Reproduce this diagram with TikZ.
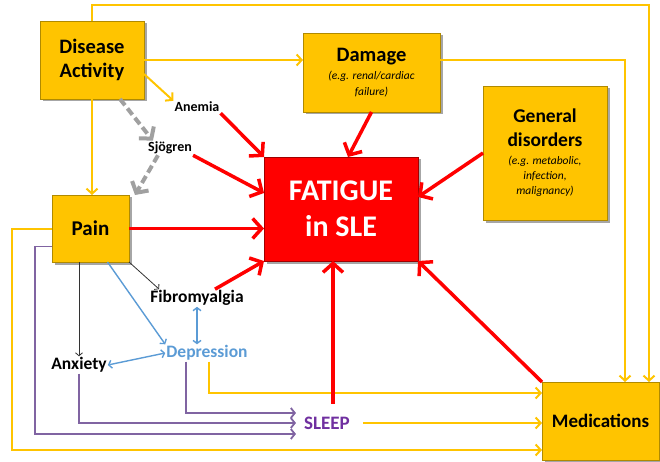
\documentclass[tikz,border=0pt]{standalone}
\usepackage{fontspec}
\setmainfont{Carlito}
\usetikzlibrary{arrows.meta, positioning, shadows}

\definecolor{gold}{HTML}{FFC400}
\definecolor{golddark}{HTML}{B08A00}
\definecolor{fatred}{HTML}{FF0000}
\definecolor{reddark}{HTML}{A00000}
\definecolor{violetline}{HTML}{8064A2}
\definecolor{sleepviolet}{HTML}{7030A0}
\definecolor{depblue}{HTML}{5B9BD5}
\definecolor{dashgray}{HTML}{A0A0A0}

\newcommand\subfont{\fontsize{11.5}{13}\selectfont\mdseries\itshape}

\begin{document}
\begin{tikzpicture}[
  x=1pt, y=-1pt,
  font=\bfseries,
  gbox/.style={
    draw=golddark,
    fill=gold,
    line width=0.8pt,
    align=center,
    inner sep=2pt,
    outer sep=0pt,
    drop shadow={shadow xshift=2.5pt, shadow yshift=-2.5pt, fill=black, opacity=0.35}
  },
  rbox/.style={
    gbox,
    draw=reddark,
    fill=fatred,
    text=white
  },
  lbl/.style={
    inner sep=1pt,
    align=center
  },
  yarrow/.style={
    draw=gold,
    line width=2pt,
    -{Straight Barb[length=5pt,width=11pt]}
  },
  rarrow/.style={
    draw=fatred,
    line width=3.5pt,
    -{Straight Barb[length=9pt,width=20pt]}
  },
  garrow/.style={
    draw=dashgray,
    line width=4pt,
    dash pattern=on 8pt off 4pt,
    -{Straight Barb[length=8pt,width=19pt]}
  },
  karrow/.style={
    draw=black!80,
    line width=0.8pt,
    -{Straight Barb[length=3pt,width=7pt]}
  },
  barrow/.style={
    draw=depblue,
    line width=1.4pt,
    {Straight Barb[length=3pt,width=8pt]}-{Straight Barb[length=3pt,width=8pt]}
  },
  varrow/.style={
    draw=violetline,
    line width=1.8pt,
    -{Straight Barb[length=4pt,width=10pt]}
  }
]
\useasboundingbox (0,0) rectangle (660,462);

% Boxes
\node[gbox, minimum width=104pt, minimum height=78pt,
  font=\fontsize{20.5}{24}\selectfont\bfseries] (act) at (92,60)
{Disease\\Activity};

\node[gbox, minimum width=137pt, minimum height=79pt,
  font=\fontsize{20.5}{22}\selectfont\bfseries] (dmg) at (371.5,72.5)
{Damage\\[-4pt]{\subfont (e.g. renal/cardiac}\\[-6pt]{\subfont failure)}};

\node[gbox, minimum width=124pt, minimum height=134pt,
  font=\fontsize{19.5}{24}\selectfont\bfseries] (gen) at (545,153)
{General\\disorders\\[-6pt]{\subfont (e.g. metabolic,}\\[-9pt]{\subfont infection,}\\[-9pt]{\subfont malignancy)}};

\node[rbox, minimum width=154pt, minimum height=104pt,
  font=\fontsize{30}{36}\selectfont\bfseries] (fat) at (341,209)
{FATIGUE\\in SLE};

\node[gbox, minimum width=77pt, minimum height=67pt,
  font=\fontsize{21}{24}\selectfont\bfseries] (pain) at (90.5,228.5)
{Pain};

\node[gbox, minimum width=117pt, minimum height=78pt,
  font=\fontsize{19}{22}\selectfont\bfseries] (med) at (600.5,421)
{Medications};

% Labels
\node[lbl, font=\fontsize{14}{16}\selectfont\bfseries] (anemia) at (197,107) {Anemia};
\node[lbl, font=\fontsize{14}{16}\selectfont\bfseries] (sjo) at (170,148) {Sjögren};
\node[lbl, font=\fontsize{17.5}{20}\selectfont\bfseries] (fib) at (197,298) {Fibromyalgia};
\node[lbl, font=\fontsize{17.5}{20}\selectfont\bfseries, text=depblue] (dep) at (207,353) {Depression};
\node[lbl, font=\fontsize{17.5}{20}\selectfont\bfseries] (anx) at (79,365) {Anxiety};
\node[lbl, font=\fontsize{19}{22}\selectfont\bfseries, text=sleepviolet] (sleep) at (327,423) {SLEEP};

% Yellow arrows
\draw[yarrow] (act.north) -- ++(0,-16) -| ([xshift=48.5pt]med.north);
\draw[yarrow] ([yshift=12pt]dmg.east) -| ([xshift=24.5pt]med.north);
\draw[yarrow] (act.east) -- (dmg.west |- act.east);
\draw[yarrow] ([yshift=-14pt]act.east) -- (anemia.north west);
\draw[yarrow] (act.south) -- (act.south |- pain.north);
\draw[yarrow] (pain.west) -- ++(-40,0) |- ([yshift=-29pt]med.west);
\draw[yarrow] ([xshift=2pt]dep.south) |- ([yshift=28pt]med.west);
\draw[yarrow] ([xshift=12pt]sleep.east) -- (sleep.east -| med.west);

% Red arrows
\draw[rarrow] (anemia.south east) -- (fat.north west);
\draw[rarrow] (sjo.south east) -- ([yshift=16pt]fat.west);
\draw[rarrow] (pain.east) -- (pain.east -| fat.west);
\draw[rarrow] ([xshift=18pt]fib.north) -- (fat.south west);
\draw[rarrow] (dmg.south) -- ([xshift=7pt]fat.north);
\draw[rarrow] (gen.west) -- ([yshift=12pt]fat.east);
\draw[rarrow] ([xshift=6pt,yshift=12pt]sleep.north) -- ([xshift=6pt]sleep.north |- fat.south);
\draw[rarrow] (med.north west) -- (fat.south east);

% Gray dashed arrows
\draw[garrow] ([xshift=28pt]act.south) -- ([xshift=6pt]sjo.north west);
\draw[garrow] ([xshift=-12pt]sjo.south) -- ([xshift=6pt]pain.north east);

% Black arrows
\draw[karrow] (pain.south east) -- ([xshift=10pt]fib.north west);
\draw[karrow] (anx.north |- pain.south) -- (anx.north);

% Blue arrows
\draw[barrow, -{Straight Barb[length=3pt,width=8pt]}] ([xshift=17pt]pain.south) -- (dep.north west);
\draw[barrow] (fib.south) -- (fib.south |- dep.north);
\draw[barrow] (anx.east) -- (dep.west);

% Violet arrows
\draw[varrow] ([yshift=-18pt]pain.west) -- ++(-17,0) |- ([xshift=-7pt,yshift=-11pt]sleep.west);
\draw[varrow] (anx.south) |- ([xshift=-7pt]sleep.west);
\draw[varrow] ([xshift=-21pt]dep.south) |- ([xshift=-7pt,yshift=10pt]sleep.west);

\end{tikzpicture}
\end{document}
